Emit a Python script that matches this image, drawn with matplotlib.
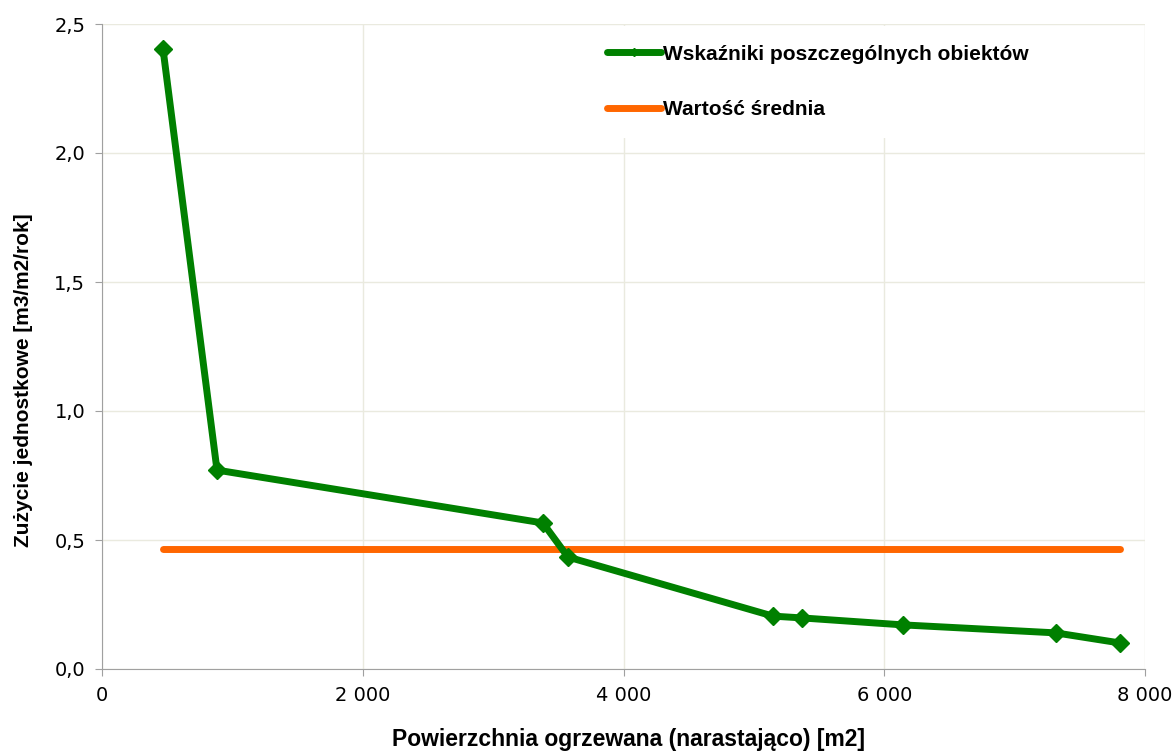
import matplotlib
matplotlib.use("Agg")
import matplotlib.pyplot as plt
from matplotlib.lines import Line2D
from matplotlib.ticker import FuncFormatter, MultipleLocator

# Data
area_cum = [468, 882, 3382, 3574, 5146, 5368, 6143, 7316, 7807]
indicators = [2.403, 0.771, 0.566, 0.434, 0.205, 0.198, 0.171, 0.140, 0.101]
mean_value = 0.465
series_labels = ["Wskaźniki poszczególnych obiektów", "Wartość średnia"]
x_label = "Powierzchnia ogrzewana (narastająco) [m2]"
y_label = "Zużycie jednostkowe [m3/m2/rok]"

GREEN = "#008000"
ORANGE = "#FF6600"
GRID = "#EAEADF"
SPINE = "#A0A0A0"

fig = plt.figure(figsize=(11.75, 7.51), dpi=100)
ax = fig.add_axes([102/1175, 1-669/751, (1145-102)/1175, (669-24)/751])

ax.plot(area_cum, indicators, color=GREEN, lw=5, marker="D", ms=9,
        solid_capstyle="round", solid_joinstyle="round", zorder=3)
ax.plot([area_cum[0], area_cum[-1]], [mean_value, mean_value], color=ORANGE, lw=5,
        solid_capstyle="round", zorder=2)

ax.set_xlim(0, 8000)
ax.set_ylim(0, 2.5)
ax.xaxis.set_major_locator(MultipleLocator(2000))
ax.yaxis.set_major_locator(MultipleLocator(0.5))
ax.xaxis.set_major_formatter(FuncFormatter(lambda v, p: f"{int(v):,}".replace(",", " ")))
ax.yaxis.set_major_formatter(FuncFormatter(lambda v, p: f"{v:.1f}".replace(".", ",")))

ax.grid(True, color=GRID, lw=1, zorder=0)
ax.set_axisbelow(True)
for s in ["top", "right"]:
    ax.spines[s].set_visible(False)
for s in ["left", "bottom"]:
    ax.spines[s].set_color(SPINE)
ax.tick_params(axis="both", colors=SPINE, length=5, labelcolor="black",
               labelsize=14, pad=7)
for lab in ax.get_xticklabels() + ax.get_yticklabels():
    lab.set_family("DejaVu Sans")

ax.set_xlabel(x_label, fontsize=16.5, fontweight="bold", family="Liberation Sans")
ax.xaxis.set_label_coords(0.505, -0.092)
ax.set_ylabel(y_label, fontsize=15, fontweight="bold", family="Liberation Sans")
ax.yaxis.set_label_coords(-0.066, 0.447)

handles = [Line2D([], [], color=GREEN, lw=5, marker="D", ms=4, solid_capstyle="round"),
           Line2D([], [], color=ORANGE, lw=5, solid_capstyle="round")]
leg = ax.legend(handles, series_labels, loc="upper left", bbox_to_anchor=(0.456, 1.013),
                frameon=True, facecolor="white", edgecolor="none", framealpha=1,
                prop={"family": "Liberation Sans", "weight": "bold", "size": 15},
                handlelength=2.6, handletextpad=0.1, labelspacing=1.75, borderpad=0.9)
leg.set_zorder(5)

fig.savefig("out.png", dpi=100)
